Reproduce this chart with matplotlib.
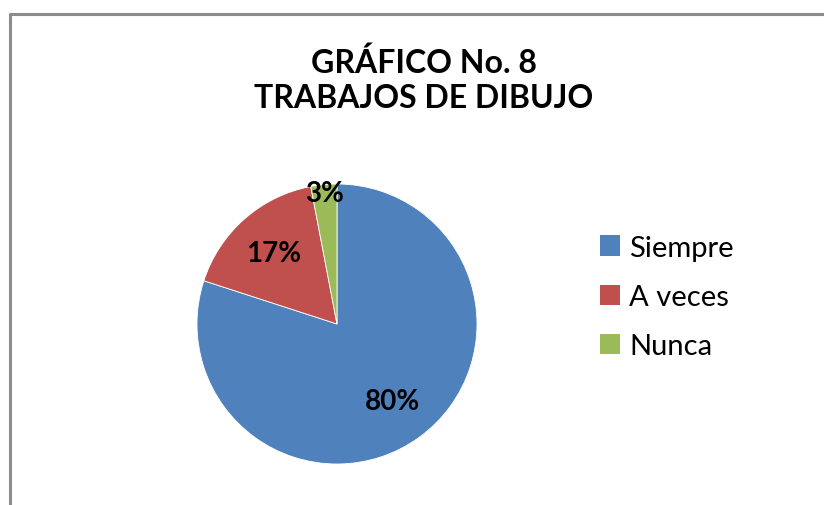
import numpy as np
import matplotlib.pyplot as plt
from matplotlib.lines import Line2D
from matplotlib.patches import Patch

# datos del grafico
categorias = ['Siempre', 'A veces', 'Nunca']
valores = [80, 17, 3]
etiquetas = ['80%', '17%', '3%']
colores = ['#4F81BD', '#C0504D', '#9BBB59']
dist_etiqueta = [0.68, 0.68, 0.94]

W, H = 824, 506
fig = plt.figure(figsize=(W / 100, H / 100), dpi=100)
fig.patch.set_facecolor('white')

# marco gris (solo borde izquierdo y superior visibles)
fig.add_artist(Line2D([9.5 / W, 9.5 / W, 1.0], [0.0, 1 - 15 / H, 1 - 15 / H],
                      transform=fig.transFigure, color='#8C8C8C', lw=2.2))

# ejes del pastel: centro (337, 325), radio 140 px
cx, cy, r = 337, 325, 140
ax = fig.add_axes([(cx - r) / W, (H - cy - r) / H, 2 * r / W, 2 * r / H])
wedges, _ = ax.pie(valores, colors=colores, startangle=90, counterclock=False,
                   radius=1, wedgeprops=dict(edgecolor='white', linewidth=0.6))
ax.set_xlim(-1, 1)
ax.set_ylim(-1, 1)
ax.set_aspect('equal')
ax.axis('off')

fuente = 'Lato'
for w, txt, d in zip(wedges, etiquetas, dist_etiqueta):
    ang = np.deg2rad((w.theta1 + w.theta2) / 2)
    ax.text(d * np.cos(ang), d * np.sin(ang), txt, ha='center', va='center',
            fontsize=20, fontweight='bold', family=fuente, color='black')

fig.text(424 / W, 1 - 63 / H, 'GRÁFICO No. 8', ha='center', va='center',
         fontsize=23, fontweight='bold', family=fuente)
fig.text(424 / W, 1 - 99 / H, 'TRABAJOS DE DIBUJO', ha='center', va='center',
         fontsize=23, fontweight='bold', family=fuente)

manijas = [Patch(facecolor=c, edgecolor='none') for c in colores]
fig.legend(manijas, categorias, loc='center left',
           bbox_to_anchor=(600 / W, 1 - 298 / H), frameon=False,
           prop=dict(family=fuente, size=21), handlelength=0.69, handleheight=0.69,
           handletextpad=0.3, labelspacing=0.8, borderpad=0, borderaxespad=0)

fig.savefig('out.png', dpi=100)
